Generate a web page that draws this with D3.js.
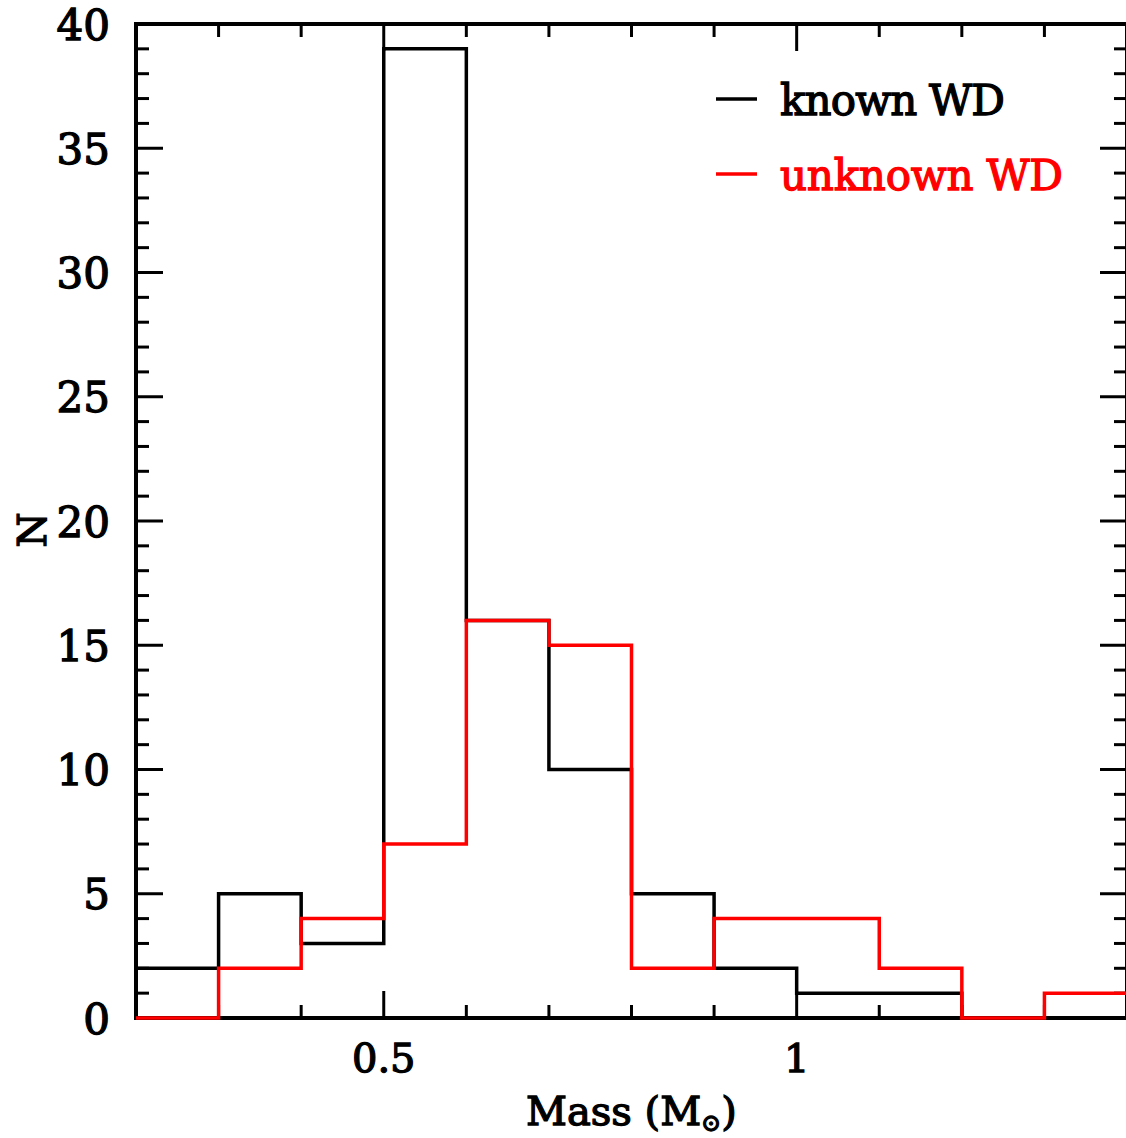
<!DOCTYPE html>
<html>
<head>
<meta charset="utf-8">
<script src="https://cdn.jsdelivr.net/npm/d3@7"></script>
<style>
  html, body { margin: 0; padding: 0; background: #fff; }
  svg { display: block; }
  text { font-family: "DejaVu Serif", serif; font-weight: normal; stroke-width: 1.3px; }
</style>
</head>
<body>
<script>
// Bin edges of the mass histogram (solar masses)
const binEdges = [0.2, 0.3, 0.4, 0.5, 0.6, 0.7, 0.8, 0.9, 1.0, 1.1, 1.2, 1.3, 1.4];
// Counts per bin
const knownCounts   = [2, 5, 3, 39, 16, 10, 5, 2, 1, 1, 0, 0];
const unknownCounts = [0, 2, 4, 7, 16, 15, 2, 4, 4, 2, 0, 1];
// Legend labels
const seriesNames = ["known WD", "unknown WD"];
const seriesColors = ["#000000", "#ff0000"];
// Tick values
const xMajorTicks = [0.5, 1.0];
const xMinorTicks = [0.2, 0.3, 0.4, 0.6, 0.7, 0.8, 0.9, 1.1, 1.2, 1.3];
const yMajorTicks = [0, 5, 10, 15, 20, 25, 30, 35, 40];
const yMinorTicks = d3.range(0, 41).filter(v => v % 5 !== 0);

const W = 1126, H = 1138;
const plotL = 136, plotR = 1127, plotT = 24, plotB = 1018;

const x = d3.scaleLinear().domain([0.2, 1.4]).range([plotL, plotR]);
const y = d3.scaleLinear().domain([0, 40]).range([plotB, plotT]);

const svg = d3.select("body").append("svg")
  .attr("width", W).attr("height", H);

const MAJ = 27, MIN = 13;

// Frame
svg.append("rect")
  .attr("x", plotL).attr("y", plotT)
  .attr("width", plotR - plotL).attr("height", plotB - plotT)
  .attr("fill", "none").attr("stroke", "#000").attr("stroke-width", 4);

// Bottom and top ticks
const tg = svg.append("g").attr("stroke", "#000").attr("stroke-width", 3);
xMajorTicks.forEach(v => {
  tg.append("line").attr("x1", x(v)).attr("x2", x(v)).attr("y1", plotB).attr("y2", plotB - MAJ);
  tg.append("line").attr("x1", x(v)).attr("x2", x(v)).attr("y1", plotT).attr("y2", plotT + MAJ);
});
xMinorTicks.forEach(v => {
  tg.append("line").attr("x1", x(v)).attr("x2", x(v)).attr("y1", plotB).attr("y2", plotB - MIN);
  tg.append("line").attr("x1", x(v)).attr("x2", x(v)).attr("y1", plotT).attr("y2", plotT + MIN);
});
// Left and right ticks
yMajorTicks.forEach(v => {
  tg.append("line").attr("x1", plotL).attr("x2", plotL + MAJ).attr("y1", y(v)).attr("y2", y(v));
  tg.append("line").attr("x1", plotR).attr("x2", plotR - MAJ).attr("y1", y(v)).attr("y2", y(v));
});
yMinorTicks.forEach(v => {
  tg.append("line").attr("x1", plotL).attr("x2", plotL + MIN).attr("y1", y(v)).attr("y2", y(v));
  tg.append("line").attr("x1", plotR).attr("x2", plotR - MIN).attr("y1", y(v)).attr("y2", y(v));
});

// Tick labels
const fmtX = d => (d === 1 ? "1" : String(d));
svg.append("g").selectAll("text").data(xMajorTicks).join("text")
  .attr("x", d => x(d)).attr("y", 1072)
  .attr("text-anchor", "middle").attr("font-size", 40)
  .attr("stroke", "#000")
  .text(fmtX);

svg.append("g").selectAll("text").data(yMajorTicks).join("text")
  .attr("x", 110).attr("y", d => y(d))
  .attr("dy", "0.37em")
  .attr("text-anchor", "end").attr("font-size", 42)
  .attr("stroke", "#000")
  .text(d => d);

// Axis titles
const xTitle = svg.append("text")
  .attr("x", 526).attr("y", 1125).attr("font-size", 40)
  .attr("stroke", "#000");
xTitle.append("tspan").text("Mass (M");
xTitle.append("tspan").attr("font-size", 24).attr("dy", 6).text("\u2299");
xTitle.append("tspan").attr("dy", -6).text(")");

svg.append("text")
  .attr("transform", "translate(46,530) rotate(-90)")
  .attr("text-anchor", "middle").attr("font-size", 40)
  .attr("stroke", "#000")
  .text("N");

// Histogram step outlines
function stepPoints(counts) {
  const pts = counts.map((c, i) => [binEdges[i], c]);
  pts.push([binEdges[binEdges.length - 1], counts[counts.length - 1]]);
  return pts;
}
const line = d3.line()
  .x(d => x(d[0])).y(d => y(d[1]))
  .curve(d3.curveStepAfter);

[knownCounts, unknownCounts].forEach((counts, i) => {
  svg.append("path")
    .attr("d", line(stepPoints(counts)))
    .attr("fill", "none")
    .attr("stroke", seriesColors[i])
    .attr("stroke-width", 3.5)
    .attr("stroke-linejoin", "miter");
});

// Legend
const legY = [99, 174];
seriesNames.forEach((name, i) => {
  svg.append("line")
    .attr("x1", 716).attr("x2", 757)
    .attr("y1", legY[i]).attr("y2", legY[i])
    .attr("stroke", seriesColors[i]).attr("stroke-width", 3.5);
  svg.append("text")
    .attr("x", 780).attr("y", legY[i] + 16)
    .attr("font-size", 42)
    .attr("fill", seriesColors[i])
    .attr("stroke", seriesColors[i])
    .attr("textLength", i === 0 ? 225 : 283)
    .attr("lengthAdjust", "spacing")
    .text(name);
});
</script>
</body>
</html>
